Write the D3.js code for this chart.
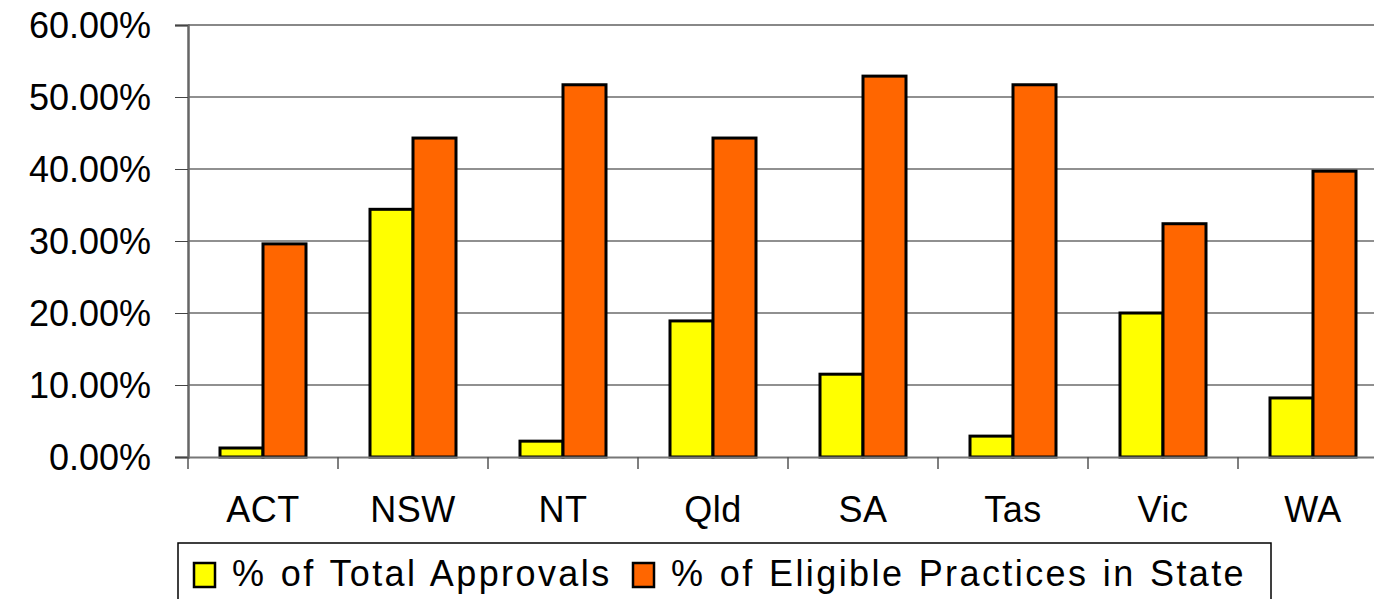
<html>
<head>
<script src="https://d3js.org/d3.v7.min.js"></script>
<style>
body { margin:0; background:#fff; }
text { font-family: Arial, "Liberation Sans", sans-serif; }
</style>
</head>
<body>
<script>
var states = ["ACT", "NSW", "NT", "Qld", "SA", "Tas", "Vic", "WA"];
var totalApprovals = [1.25, 34.4, 2.2, 18.9, 11.5, 2.9, 20.0, 8.2];
var eligiblePractices = [29.6, 44.3, 51.7, 44.3, 52.9, 51.7, 32.4, 39.7];
var seriesNames = ["% of Total Approvals", "% of Eligible Practices in State"];
var yTicks = [0, 10, 20, 30, 40, 50, 60];

var width = 1374, height = 599;
var margin = {top:25, left:188};
var w = 1200, h = 432;

var svg = d3.select("body").append("svg")
    .attr("width", width)
    .attr("height", height);
var g = svg.append("g")
    .attr("transform", "translate(" + margin.left + "," + margin.top + ")");

var x = d3.scaleBand().domain(states).range([0, w]);
var x1 = d3.scaleBand().domain([0, 1]).range([x.bandwidth()/2 - 43, x.bandwidth()/2 + 43]);
var y = d3.scaleLinear().domain([0, 60]).range([h, 0]);
var z = ["#ffff00", "#ff6600"];

// gridlines
g.append("g").selectAll("line")
    .data(yTicks.slice(1))
    .enter().append("line")
    .attr("x1", 0).attr("x2", w)
    .attr("y1", function(d){ return y(d); })
    .attr("y2", function(d){ return y(d); })
    .attr("stroke", function(d){ return d == 60 ? "#888" : "#222"; })
    .attr("stroke-width", function(d){ return d == 60 ? 2 : 1.2; });

// y axis
var yAxis = d3.axisLeft(y).tickValues(yTicks).tickSize(13).tickPadding(24)
    .tickFormat(function(d){ return d.toFixed(2) + "%"; });
var ya = g.append("g").call(yAxis);
ya.select(".domain").attr("stroke", "#666").attr("stroke-width", 2.5);
ya.selectAll(".tick line").attr("stroke", "#444");
ya.selectAll("text").attr("font-size", 36).attr("fill", "#000")
    .attr("font-family", "Arial, 'Liberation Sans', sans-serif")
    .attr("dy", "0.35em");

// bars
var groups = g.append("g").selectAll("g")
    .data(states)
    .enter().append("g")
    .attr("transform", function(d){ return "translate(" + x(d) + ",0)"; });
groups.selectAll("rect")
    .data(function(d, i){ return [totalApprovals[i], eligiblePractices[i]]; })
    .enter().append("rect")
    .attr("x", function(d, j){ return x1(j); })
    .attr("width", x1.bandwidth())
    .attr("y", function(d){ return y(d); })
    .attr("height", function(d){ return h - y(d); })
    .attr("fill", function(d, j){ return z[j]; })
    .attr("stroke", "#000")
    .attr("stroke-width", 3);

// x axis
var xAxis = d3.axisBottom(x).tickSize(0).tickPadding(39);
var xa = g.append("g").attr("transform", "translate(0," + h + ")").call(xAxis);
xa.select(".domain").attr("stroke", "#777").attr("stroke-width", 2);
xa.selectAll("text").attr("font-size", 36).attr("fill", "#000")
    .attr("font-family", "Arial, 'Liberation Sans', sans-serif")
    .attr("letter-spacing", 0.5)
    .attr("dy", "0.71em");
// category separators
xa.append("g").selectAll("line")
    .data(d3.range(states.length + 1))
    .enter().append("line")
    .attr("x1", function(d){ return d * x.step(); })
    .attr("x2", function(d){ return d * x.step(); })
    .attr("y1", 0).attr("y2", 12)
    .attr("stroke", "#555").attr("stroke-width", 1.5);

// legend
var legend = svg.append("g").attr("transform", "translate(178,543)");
legend.append("rect")
    .attr("width", 1093).attr("height", 70)
    .attr("fill", "#fff").attr("stroke", "#000").attr("stroke-width", 1.5);
var lx = [16, 455];
seriesNames.forEach(function(s, i){
    legend.append("rect")
        .attr("x", lx[i]).attr("y", 20)
        .attr("width", 21).attr("height", 24)
        .attr("fill", z[i]).attr("stroke", "#000").attr("stroke-width", 2.5);
    legend.append("text")
        .attr("x", lx[i] + 38).attr("y", 43)
        .attr("font-size", 36).attr("letter-spacing", 2.4).attr("word-spacing", 2)
        .text(s);
});
</script>
</body>
</html>
